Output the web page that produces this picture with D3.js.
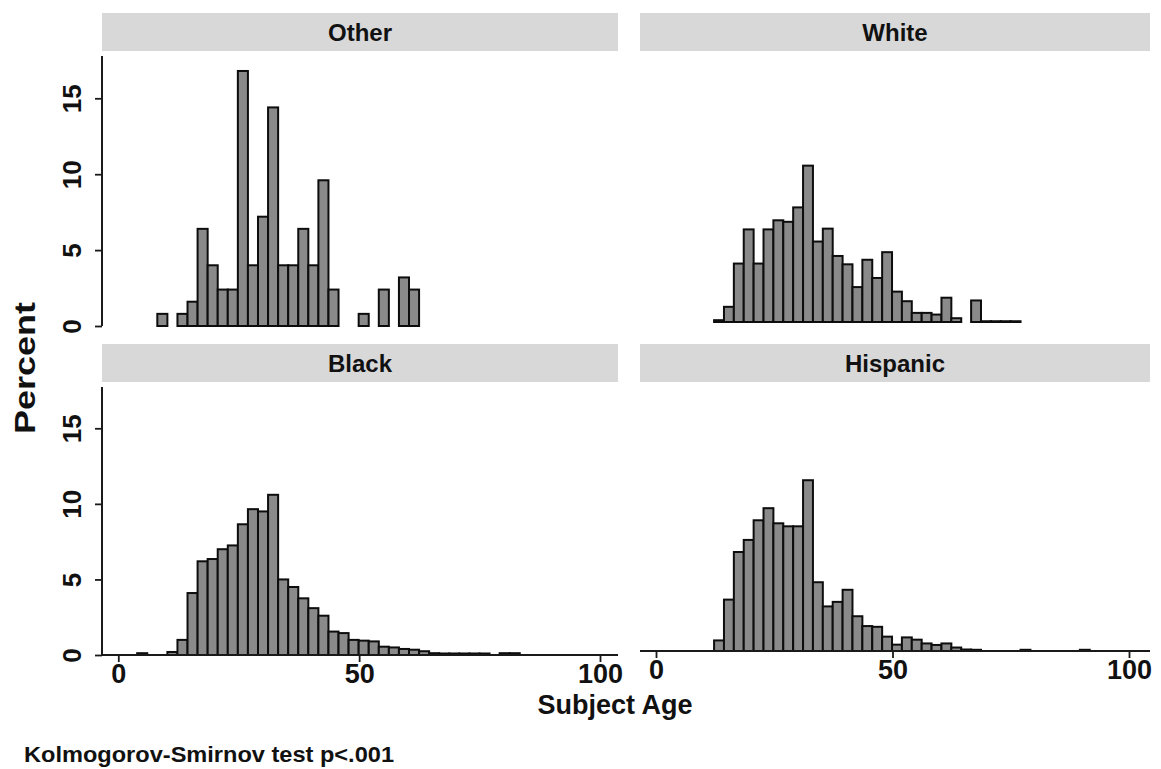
<!DOCTYPE html>
<html>
<head>
<meta charset="utf-8">
<script src="https://cdn.jsdelivr.net/npm/d3@7"></script>
<style>
  html, body { margin: 0; padding: 0; background: #ffffff; }
  svg { display: block; }
  text { font-family: "Liberation Sans", Arial, Helvetica, sans-serif; fill: #111; font-weight: bold; }
</style>
</head>
<body>
<svg id="chart" width="1161" height="769"></svg>
<script>
// ---------------- data ----------------
// Common histogram bins (years of age): lower edge of bin k = binEdge0 + k * binWidth
const binEdge0 = 8.1;
const binWidth = 2.09;

const panelNames = ["Other", "White", "Black", "Hispanic"];

// Percent per bin, starting at bin index given by *FirstBin
const otherFirstBin = 0;
const otherPct = [0.8, 0, 0.8, 1.6, 6.4, 4.0, 2.4, 2.4, 16.8, 4.0, 7.2, 14.4, 4.0, 4.0,
                  6.4, 4.0, 9.6, 2.4, 0, 0, 0.8, 0, 2.4, 0, 3.2, 2.4];

const whiteFirstBin = 2;
const whitePct = [0.12, 1.0, 3.85, 6.1, 3.85, 6.1, 6.7, 6.6, 7.55, 10.3, 5.3, 6.15, 4.35,
                  3.8, 2.3, 4.1, 2.9, 4.6, 2.0, 1.37, 0.6, 0.6, 0.49, 1.6, 0.25, 0, 1.42,
                  0.05, 0.05, 0.05, 0.05];

const blackFirstBin = -2;
const blackPct = [0.12, 0, 0, 0.2, 1.0, 4.1, 6.2, 6.35, 7.0, 7.25, 8.65, 9.65, 9.5, 10.6,
                  5.0, 4.5, 3.75, 3.1, 2.6, 1.55, 1.45, 1.0, 0.95, 0.9, 0.55, 0.5, 0.4,
                  0.35, 0.25, 0.12, 0.1, 0.1, 0.1, 0.1, 0.1, 0, 0.12, 0.12];

const hispanicFirstBin = 2;
const hispanicPct = [0.7, 3.4, 6.55, 7.35, 8.65, 9.45, 8.45, 8.25, 8.25, 11.3, 4.55, 2.95,
                     3.25, 4.05, 2.3, 1.65, 1.6, 0.95, 0.42, 0.9, 0.75, 0.5, 0.4, 0.5, 0.23,
                     0.1, 0.08, 0, 0, 0, 0, 0.08, 0, 0, 0, 0, 0, 0.08];

const xTicks = [0, 50, 100];
const yTicks = [0, 5, 10, 15];
const yTitle = "Percent";
const xTitle = "Subject Age";
const note = "Kolmogorov-Smirnov test p<.001";

// ---------------- layout ----------------
const svg = d3.select("#chart");

const cols = [
  { x0: 102, x1: 618, scale: d3.scaleLinear().domain([0, 100]).range([118.3, 600]), dy: 0 },
  { x0: 640, x1: 1150, scale: d3.scaleLinear().domain([0, 100]).range([656, 1129]), dy: -4 }
];
const rows = [
  { stripTop: 13, stripBot: 51, plotTop: 56, y0: 326, y15: 98.3 },
  { stripTop: 344, stripBot: 382, plotTop: 387, y0: 655, y15: 428.3 }
];

const panels = [
  { name: panelNames[0], values: otherPct, first: otherFirstBin, col: 0, row: 0 },
  { name: panelNames[1], values: whitePct, first: whiteFirstBin, col: 1, row: 0 },
  { name: panelNames[2], values: blackPct, first: blackFirstBin, col: 0, row: 1 },
  { name: panelNames[3], values: hispanicPct, first: hispanicFirstBin, col: 1, row: 1 }
];

panels.forEach(p => {
  const c = cols[p.col], r = rows[p.row];
  const x = c.scale;
  const y = d3.scaleLinear().domain([0, 15]).range([r.y0 + c.dy, r.y15 + c.dy]);
  const g = svg.append("g");

  // strip
  g.append("rect")
    .attr("x", c.x0).attr("y", r.stripTop)
    .attr("width", c.x1 - c.x0).attr("height", r.stripBot - r.stripTop)
    .attr("fill", "#d8d8d8");
  g.append("text")
    .attr("x", (c.x0 + c.x1) / 2).attr("y", (r.stripTop + r.stripBot) / 2)
    .attr("dy", "0.36em")
    .attr("text-anchor", "middle")
    .attr("font-size", 24)
    .text(p.name);

  // bars
  const bins = p.values.map((v, i) => ({ k: p.first + i, v }))
    .filter(d => d.v > 0);
  g.selectAll("rect.bar").data(bins).enter().append("rect")
    .attr("class", "bar")
    .attr("x", d => x(binEdge0 + d.k * binWidth))
    .attr("width", d => x(binEdge0 + (d.k + 1) * binWidth) - x(binEdge0 + d.k * binWidth))
    .attr("y", d => y(d.v))
    .attr("height", d => y(0) - y(d.v))
    .attr("fill", "#8a8a8a")
    .attr("stroke", "#0d0d0d")
    .attr("stroke-width", 2);

  // y axis (left column)
  if (p.col === 0) {
    const ya = g.append("g")
      .attr("transform", `translate(${c.x0},0)`)
      .call(d3.axisLeft(y).tickValues(yTicks).tickSize(7).tickSizeOuter(0));
    ya.select(".domain").remove();
    ya.append("line")
      .attr("x1", 0).attr("x2", 0)
      .attr("y1", y(0)).attr("y2", r.plotTop)
      .attr("stroke", "#1a1a1a").attr("stroke-width", 2);
    ya.selectAll(".tick line").attr("stroke", "#1a1a1a").attr("stroke-width", 1.8);
    ya.selectAll(".tick text")
      .attr("x", null).attr("dy", null)
      .attr("transform", "translate(-21,0) rotate(-90)")
      .attr("text-anchor", "middle")
      .attr("font-size", 26)
      .attr("font-weight", "bold")
      .attr("font-family", "Liberation Sans, Arial, sans-serif")
      .attr("fill", "#111");
  }

  // x axis (bottom row)
  if (p.row === 1) {
    const xa = g.append("g")
      .attr("transform", `translate(0,${y(0)})`)
      .call(d3.axisBottom(x).tickValues(xTicks).tickSize(7).tickSizeOuter(0));
    xa.select(".domain").remove();
    xa.append("line")
      .attr("x1", c.x0).attr("x2", c.x1)
      .attr("y1", 0).attr("y2", 0)
      .attr("stroke", "#1a1a1a").attr("stroke-width", 2);
    xa.selectAll(".tick line").attr("stroke", "#1a1a1a").attr("stroke-width", 1.8);
    xa.selectAll(".tick text")
      .attr("y", 28).attr("dy", null)
      .attr("font-size", 27)
      .attr("font-weight", "bold")
      .attr("font-family", "Liberation Sans, Arial, sans-serif")
      .attr("fill", "#111");
  }
});

// titles
svg.append("text")
  .attr("transform", "translate(35,368) rotate(-90)")
  .attr("text-anchor", "middle")
  .attr("font-size", 30)
  .attr("textLength", 132)
  .attr("lengthAdjust", "spacingAndGlyphs")
  .text(yTitle);

svg.append("text")
  .attr("x", 615).attr("y", 714)
  .attr("text-anchor", "middle")
  .attr("font-size", 27)
  .text(xTitle);

svg.append("text")
  .attr("x", 24).attr("y", 762)
  .attr("font-size", 22)
  .attr("textLength", 370)
  .attr("lengthAdjust", "spacingAndGlyphs")
  .text(note);
</script>
</body>
</html>
